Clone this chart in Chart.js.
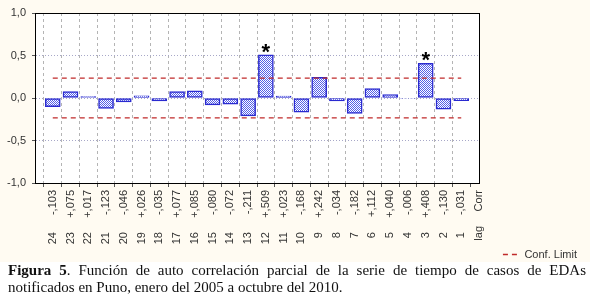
<!DOCTYPE html>
<html>
<head>
<meta charset="utf-8">
<script src="https://cdn.jsdelivr.net/npm/chart.js@4"></script>
<style>
  body { margin: 0; background: #fff; width: 590px; height: 299px; overflow: hidden; }
  #wrap { position: relative; width: 590px; height: 299px; }
  #bg { position: absolute; left: 0; top: 0; width: 590px; height: 262px; background: #fffbf2; }
  #pacf { position: absolute; left: 0; top: 0; }
  #cap {
    position: absolute; left: 8px; top: 262px;
    font-family: "Liberation Serif", "Times New Roman", serif;
    font-size: 15px; line-height: 17px; color: #111;
    width: 578px; text-align: justify;
  }
</style>
</head>
<body>
<div id="wrap">
  <div id="bg"></div>
  <canvas id="pacf" width="590" height="270"></canvas>
  <div id="cap"><b>Figura 5</b>. Función de auto correlación parcial de la serie de tiempo de casos de EDAs notificados en Puno, enero del 2005 a octubre del 2010.</div>
</div>
<script>
// lags as shown left to right
const lags = [24, 23, 22, 21, 20, 19, 18, 17, 16, 15, 14, 13, 12, 11, 10, 9, 8, 7, 6, 5, 4, 3, 2, 1];
const pacf = [-0.103, 0.075, 0.017, -0.123, -0.046, 0.026, -0.035, 0.077, 0.085, -0.080, -0.072, -0.211,
              0.509, 0.023, -0.168, 0.242, -0.034, -0.182, 0.112, 0.040, -0.006, 0.408, -0.130, -0.031];
const confLimit = 0.234;
const markedLags = [12, 3];
const yTicks = [-1, -0.5, 0, 0.5, 1];

const fmtCorr = v => (v < 0 ? '-' : '+') + ',' + Math.abs(v).toFixed(3).slice(2);

// one empty slot on each side, row titles sit in the right slot
const corrLabels = [''].concat(pacf.map(fmtCorr), ['Corr']);
const lagLabels = [''].concat(lags.map(String), ['lag']);
const barData = [null].concat(pacf, [null]);
const upper = [null].concat(lags.map(() => confLimit), [null]);
const lower = [null].concat(lags.map(() => -confLimit), [null]);
const last = corrLabels.length - 1;

// dotted blue fill like the original
const pc = document.createElement('canvas');
pc.width = 2; pc.height = 2;
const pctx = pc.getContext('2d');
pctx.fillStyle = '#ffffff'; pctx.fillRect(0, 0, 2, 2);
pctx.fillStyle = '#5560e8'; pctx.fillRect(0, 0, 1, 1); pctx.fillRect(1, 1, 1, 1);
const pattern = pctx.createPattern(pc, 'repeat');

const tickFont = { family: 'Liberation Sans, Arial, sans-serif', size: 11 };

const plotBg = {
  id: 'plotBg',
  beforeDraw(chart) {
    const a = chart.chartArea, c = chart.ctx;
    c.save();
    c.fillStyle = '#fff';
    c.fillRect(a.left, a.top, a.right - a.left, a.bottom - a.top);
    c.restore();
  }
};

const stars = {
  id: 'stars',
  afterDatasetsDraw(chart) {
    const c = chart.ctx;
    const meta = chart.getDatasetMeta(0);
    c.save();
    c.fillStyle = '#000';
    c.font = 'bold 22px Liberation Sans, Arial, sans-serif';
    c.textAlign = 'center';
    c.textBaseline = 'alphabetic';
    markedLags.forEach(l => {
      const el = meta.data[lags.indexOf(l) + 1];
      c.fillText('*', el.x, el.y + 4);
    });
    c.restore();
  }
};

new Chart(document.getElementById('pacf'), {
  data: {
    labels: corrLabels,
    datasets: [
      {
        type: 'bar',
        data: barData,
        backgroundColor: pattern,
        borderColor: '#2a2ad0',
        borderWidth: 1.5,
        borderSkipped: false,
        barThickness: 15,
        order: 2
      },
      {
        type: 'line',
        label: 'Conf. Limit',
        data: upper,
        borderColor: '#c02a2a',
        backgroundColor: 'transparent',
        borderWidth: 1.3,
        borderDash: [5, 4],
        pointRadius: 0,
        order: 1
      },
      {
        type: 'line',
        label: 'lower',
        data: lower,
        borderColor: '#c02a2a',
        backgroundColor: 'transparent',
        borderWidth: 1.3,
        borderDash: [5, 4],
        pointRadius: 0,
        order: 1
      }
    ]
  },
  options: {
    responsive: false,
    animation: false,
    layout: { padding: { top: 13, right: 10, left: 0, bottom: 0 } },
    plugins: {
      legend: {
        position: 'bottom',
        align: 'end',
        labels: {
          filter: item => item.text === 'Conf. Limit',
          boxWidth: 16,
          boxHeight: 0,
          padding: 3,
          color: '#333',
          font: tickFont
        }
      },
      tooltip: { enabled: false }
    },
    scales: {
      x: {
        type: 'category',
        position: 'bottom',
        offset: false,
        weight: 0,
        grid: {
          color: c => (c.index === 0 || c.index === last) ? 'rgba(0,0,0,0)' : '#b4b4b4',
          tickColor: '#555',
          tickLength: 4
        },
        border: { color: '#000', width: 1, dash: [3, 3] },
        ticks: {
          autoSkip: false, minRotation: 90, maxRotation: 90,
          padding: 3, color: '#333', font: tickFont
        },
        afterFit: s => { s.height = 35; }
      },
      x2: {
        type: 'category',
        position: 'bottom',
        labels: lagLabels,
        offset: false,
        weight: 1,
        grid: { display: false },
        border: { display: false },
        ticks: {
          autoSkip: false, minRotation: 90, maxRotation: 90,
          padding: 0, color: '#333', font: tickFont,
          callback: function (v, i) {
            const t = this.getLabelForValue(v);
            return (i === last || t === '') ? t : t + '  ';
          }
        },
        afterFit: s => { s.height = 28; }
      },
      xt: {
        type: 'category',
        position: 'top',
        offset: false,
        grid: { display: false },
        border: { color: '#000', width: 1 },
        ticks: { display: false },
        afterFit: s => { s.height = 0; }
      },
      y: {
        type: 'linear',
        min: -1, max: 1,
        afterBuildTicks: s => { s.ticks = yTicks.map(v => ({ value: v })); },
        grid: {
          color: c => (c.tick && Math.abs(c.tick.value) === 1) ? 'rgba(0,0,0,0)' : '#a8a8c8',
          tickColor: '#555',
          tickLength: 3
        },
        border: { color: '#000', width: 1, dash: [1, 2] },
        ticks: {
          padding: 6, color: '#333', font: tickFont,
          callback: v => v.toFixed(1).replace('.', ',')
        },
        afterFit: s => { s.width = 35; }
      },
      yr: {
        type: 'linear',
        position: 'right',
        min: -1, max: 1,
        grid: { display: false },
        border: { color: '#000', width: 1 },
        ticks: { display: false },
        afterFit: s => { s.width = 101; }
      }
    }
  },
  plugins: [plotBg, stars]
});
</script>
</body>
</html>
